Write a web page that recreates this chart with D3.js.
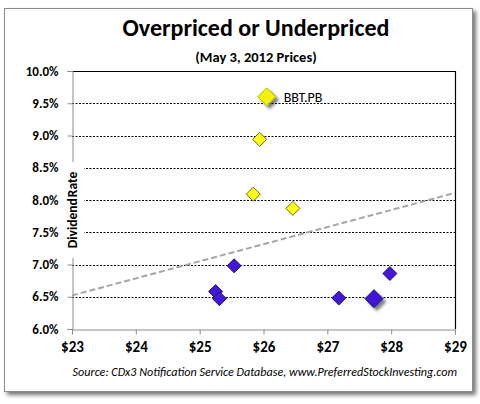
<!DOCTYPE html>
<html><head><meta charset="utf-8">
<script src="https://cdn.jsdelivr.net/npm/d3@7"></script>
<style>
html,body{margin:0;padding:0;background:#fff;}
svg{display:block;font-family:Carlito, Lato, "Open Sans", sans-serif;}
</style></head>
<body>
<svg id="c" width="480" height="404"></svg>
<script>
// ---- data ----
const titleText = "Overpriced or Underpriced";
const subtitleText = "(May 3, 2012 Prices)";
const sourceText = "Source:  CDx3 Notification Service Database, www.PreferredStockInvesting.com";
const yAxisTitle = "Dividend Rate";
const xTicks = [23, 24, 25, 26, 27, 28, 29];
const yTicks = [6.0, 6.5, 7.0, 7.5, 8.0, 8.5, 9.0, 9.5, 10.0];
// overpriced (above trend) - yellow
const aboveNames = ["BBT.PB", "", "", ""];
const abovePrice = [26.05, 25.94, 25.84, 26.46];
const aboveRate  = [9.60, 8.94, 8.09, 7.87];
const aboveHighlight = [true, false, false, false];
// underpriced (below trend) - blue
const belowPrice = [25.54, 25.25, 25.31, 27.18, 27.73, 27.98];
const belowRate  = [6.98, 6.58, 6.47, 6.48, 6.47, 6.86];
const belowHighlight = [false, false, false, false, true, false];
// trend line
const trendPrice = [23, 29];
const trendRate  = [6.52, 8.11];

const svg = d3.select("#c");
const defs = svg.append("defs");
const fs = defs.append("filter").attr("id","frameShadow").attr("x","-5%").attr("y","-5%").attr("width","115%").attr("height","115%");
fs.append("feGaussianBlur").attr("in","SourceAlpha").attr("stdDeviation",2);
fs.append("feOffset").attr("dx",3).attr("dy",3).attr("result","b");
fs.append("feComponentTransfer").append("feFuncA").attr("type","linear").attr("slope",0.55);
const fm = fs.append("feMerge"); fm.append("feMergeNode"); fm.append("feMergeNode").attr("in","SourceGraphic");
const ms = defs.append("filter").attr("id","markShadow").attr("x","-50%").attr("y","-50%").attr("width","220%").attr("height","220%");
ms.append("feGaussianBlur").attr("in","SourceAlpha").attr("stdDeviation",1.6);
ms.append("feOffset").attr("dx",3).attr("dy",3).attr("result","b");
ms.append("feComponentTransfer").append("feFuncA").attr("type","linear").attr("slope",0.5);
const mm = ms.append("feMerge"); mm.append("feMergeNode"); mm.append("feMergeNode").attr("in","SourceGraphic");

// frame
svg.append("rect").attr("x",4.5).attr("y",8.5).attr("width",468).attr("height",383)
  .attr("fill","#fff").attr("stroke","#8c8c8c").attr("stroke-width",1).attr("filter","url(#frameShadow)");

const x = d3.scaleLinear().domain([23,29]).range([72,455]);
const y = d3.scaleLinear().domain([6,10]).range([329,71]);

// gridlines
svg.append("g").selectAll("line").data(yTicks.filter(v=>v>6 && v<10)).join("line")
  .attr("x1",x(23)).attr("x2",x(29)).attr("y1",d=>Math.round(y(d))+0.5).attr("y2",d=>Math.round(y(d))+0.5)
  .attr("stroke","#000").attr("stroke-width",1).attr("stroke-dasharray","2,1.5");
// top & right border
svg.append("path").attr("d",`M${x(23)},${Math.round(y(10))+0.5}H${x(29)+0.5}V${y(6)}`)
  .attr("fill","none").attr("stroke","#000").attr("stroke-width",1.2);

// axes
const yAxis = d3.axisLeft(y).tickValues(yTicks).tickSize(5).tickPadding(9).tickFormat(d=>d.toFixed(1)+"%");
const gy = svg.append("g").attr("transform",`translate(${x(23)+0.5},0)`).call(yAxis);
gy.selectAll(".domain,.tick line").attr("stroke","#8c8c8c");
gy.selectAll("text").attr("font-size",13).attr("font-weight","bold").attr("fill","#000")
  .attr("font-family","Carlito, Lato, sans-serif");
const xAxis = d3.axisBottom(x).tickValues(xTicks).tickSize(5).tickPadding(7).tickFormat(d=>"$"+d);
const gx = svg.append("g").attr("transform",`translate(0,${Math.round(y(6))+0.5})`).call(xAxis);
gx.selectAll(".domain,.tick line").attr("stroke","#8c8c8c");
gx.selectAll("text").attr("font-size",15).attr("font-weight","bold").attr("fill","#000")
  .attr("font-family","Carlito, Lato, sans-serif");

// trend line
svg.append("line").attr("x1",x(trendPrice[0])).attr("y1",y(trendRate[0]))
  .attr("x2",x(trendPrice[1])).attr("y2",y(trendRate[1]))
  .attr("stroke","#a6a6a6").attr("stroke-width",2).attr("stroke-dasharray","6,3");

// y axis title with white box
const ytc = 210;
svg.append("rect").attr("x",66).attr("y",ytc-48).attr("width",18).attr("height",96).attr("fill","#fff");
svg.append("text").attr("transform",`translate(77,${ytc}) rotate(-90)`).attr("text-anchor","middle")
  .attr("font-size",13.5).attr("font-weight","bold").attr("word-spacing","-2px").text(yAxisTitle);

// markers
function diamond(cx, cy, r){ return `M${cx},${cy-r}L${cx+r},${cy}L${cx},${cy+r}L${cx-r},${cy}Z`; }
const above = abovePrice.map((p,i)=>({p, r:aboveRate[i], h:aboveHighlight[i], n:aboveNames[i]}));
const below = belowPrice.map((p,i)=>({p, r:belowRate[i], h:belowHighlight[i]}));
svg.append("g").selectAll("path").data(below).join("path")
  .attr("d",d=>diamond(x(d.p), y(d.r), d.h?9:7))
  .attr("fill","#4318d6").attr("stroke","#22107a").attr("stroke-width",1)
  .attr("filter",d=>d.h?"url(#markShadow)":null);
svg.append("g").selectAll("path").data(above).join("path")
  .attr("d",d=>diamond(x(d.p), y(d.r), d.h?9:7))
  .attr("fill",d=>d.h?"#f2f20a":"#ffff1a").attr("stroke",d=>d.h?"#b8b800":"#6b6b00").attr("stroke-width",1)
  .attr("filter",d=>d.h?"url(#markShadow)":null);
svg.append("g").selectAll("text").data(above.filter(d=>d.n)).join("text")
  .attr("x",d=>x(d.p)+17).attr("y",d=>y(d.r)+5)
  .attr("font-size",14).attr("font-family","Carlito, Lato, sans-serif").text(d=>d.n);

// titles
svg.append("text").attr("x",256).attr("y",36).attr("text-anchor","middle")
  .attr("font-size",24).attr("font-weight","bold").text(titleText);
svg.append("text").attr("x",256).attr("y",62).attr("text-anchor","middle")
  .attr("font-size",14.5).attr("font-weight","bold").text(subtitleText);
svg.append("text").attr("x",457).attr("y",376).attr("text-anchor","end")
  .attr("font-size",12.1).attr("font-style","italic").text(sourceText);
</script>
</body></html>
